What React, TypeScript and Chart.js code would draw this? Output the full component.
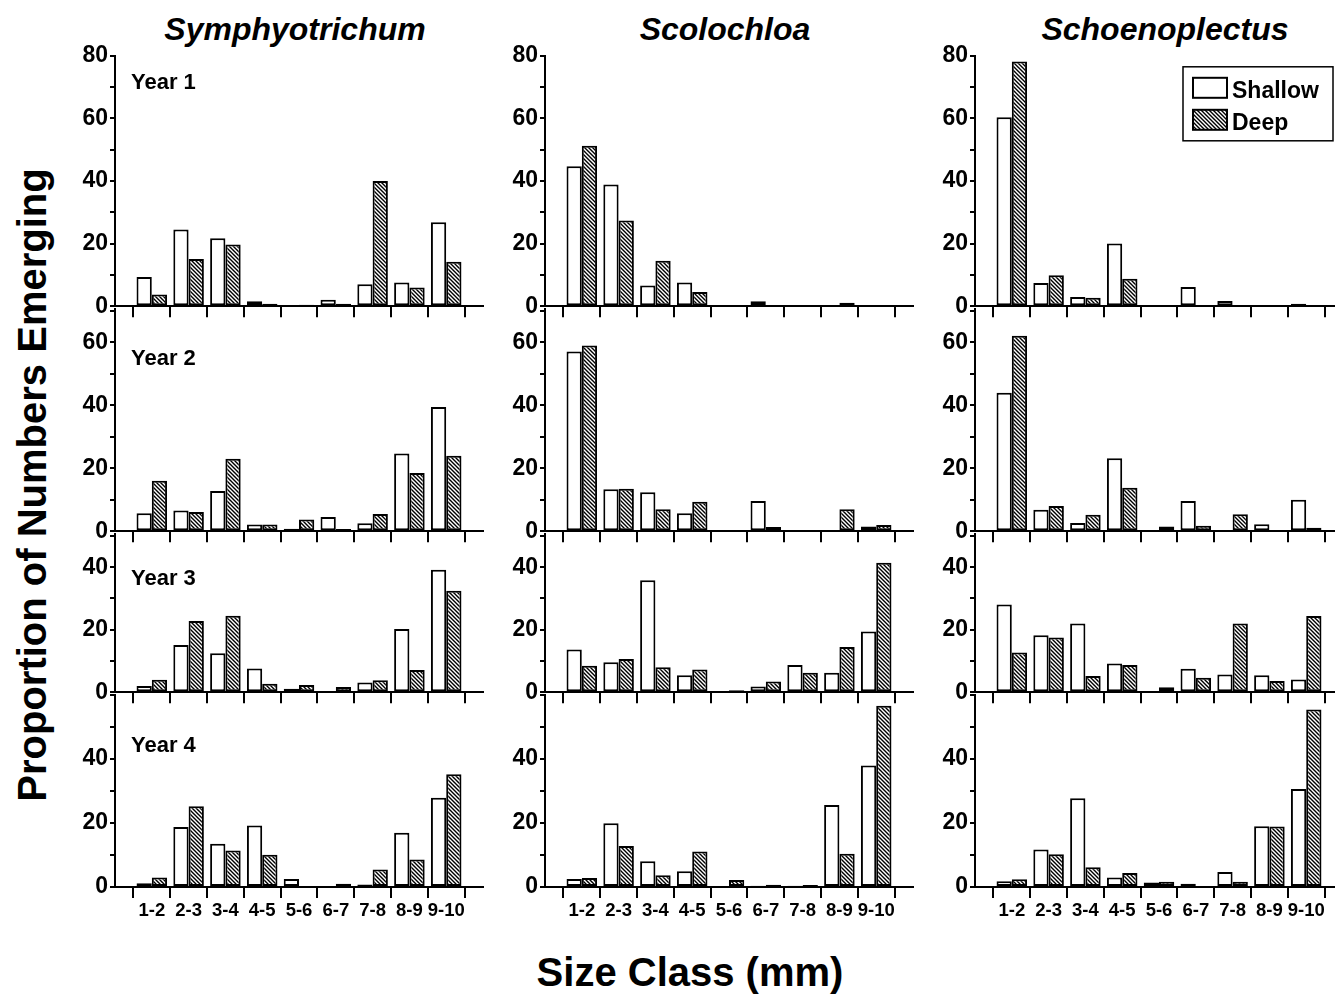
import React, { useEffect, useRef } from 'react';
import { Chart, registerables } from 'chart.js';

Chart.register(...registerables);

// ---------- data ----------
const sizeClasses = ['1-2', '2-3', '3-4', '4-5', '5-6', '6-7', '7-8', '8-9', '9-10'];
const genera = ['Symphyotrichum', 'Scolochloa', 'Schoenoplectus'];
const yearLabels = ['Year 1', 'Year 2', 'Year 3', 'Year 4'];
const seriesNames = ['Shallow', 'Deep'];

const symY1Shallow = [9.3, 24.5, 21.7, 1.6, 0, 2.1, 7.0, 7.6, 26.8];
const symY1Deep = [3.7, 15.1, 19.7, 0.8, 0.5, 0.8, 40.0, 6.0, 14.2];
const scoY1Shallow = [44.7, 38.9, 6.6, 7.6, 0, 1.6, 0, 0, 0];
const scoY1Deep = [51.3, 27.4, 14.5, 4.5, 0, 0.2, 0, 1.1, 0];
const schY1Shallow = [60.4, 7.4, 2.9, 20.0, 0.3, 6.1, 1.7, 0, 0.8];
const schY1Deep = [78.2, 9.9, 2.7, 8.8, 0, 0, 0, 0, 0];

const symY2Shallow = [5.7, 6.6, 12.8, 2.1, 0.8, 4.5, 2.5, 24.7, 39.5];
const symY2Deep = [16.0, 6.1, 23.0, 2.1, 3.7, 0.7, 5.5, 18.5, 24.0];
const scoY2Shallow = [57.1, 13.3, 12.4, 5.7, 0, 9.6, 0, 0.2, 1.5];
const scoY2Deep = [59.0, 13.5, 7.0, 9.4, 0, 1.3, 0.4, 7.0, 2.0];
const schY2Shallow = [44.0, 6.8, 2.6, 23.2, 0, 9.6, 0.2, 2.2, 10.0];
const schY2Deep = [62.1, 8.0, 5.2, 13.8, 1.5, 1.7, 5.4, 0.2, 1.1];

const symY3Shallow = [2.0, 15.1, 12.5, 7.6, 1.1, 0, 3.1, 20.2, 39.2];
const symY3Deep = [4.0, 22.8, 24.5, 2.7, 2.3, 1.7, 3.8, 7.1, 32.5];
const scoY3Shallow = [13.7, 9.6, 35.8, 5.4, 0, 1.8, 8.7, 6.2, 19.4];
const scoY3Deep = [8.5, 10.6, 8.0, 7.3, 0.6, 3.4, 6.2, 14.5, 41.4];
const schY3Shallow = [28.1, 18.2, 22.0, 9.2, 0, 7.5, 5.7, 5.4, 4.1];
const schY3Deep = [12.7, 17.5, 5.2, 8.7, 1.6, 4.6, 22.0, 3.6, 24.4];

const symY4Shallow = [1.2, 18.7, 13.5, 19.2, 2.5, 0, 0.8, 16.9, 27.9];
const symY4Deep = [3.0, 25.2, 11.4, 10.1, 0, 1.0, 5.5, 8.6, 35.2];
const scoY4Shallow = [2.5, 19.9, 8.0, 4.9, 0, 0.4, 0.4, 25.6, 37.9];
const scoY4Deep = [2.8, 12.8, 3.7, 11.1, 2.2, 0.7, 0.6, 10.4, 56.6];
const schY4Shallow = [1.8, 11.7, 27.7, 3.0, 1.4, 1.0, 4.7, 19.0, 30.6];
const schY4Deep = [2.4, 10.2, 6.2, 4.4, 1.6, 0, 1.6, 18.9, 55.4];

// y-axis range per row and which tick values get a label
const rowYMax = [80, 70.7, 50.7, 60];
const rowTickLabels = [
  [0, 20, 40, 60, 80],
  [0, 20, 40, 60],
  [0, 20, 40],
  [0, 20, 40],
];

const grid = [
  [[symY1Shallow, symY1Deep], [scoY1Shallow, scoY1Deep], [schY1Shallow, schY1Deep]],
  [[symY2Shallow, symY2Deep], [scoY2Shallow, scoY2Deep], [schY2Shallow, schY2Deep]],
  [[symY3Shallow, symY3Deep], [scoY3Shallow, scoY3Deep], [schY3Shallow, schY3Deep]],
  [[symY4Shallow, symY4Deep], [scoY4Shallow, scoY4Deep], [schY4Shallow, schY4Deep]],
];

// ---------- layout ----------
const FONT = "'Liberation Sans', Arial, Helvetica, sans-serif";
const AXIS_X = [115, 545, 975];
const PLOT_W = 368;
const Y_AXIS_W = 60;
const PAD_TOP = 15;
const PAD_RIGHT = 10;
const ROW_TOP = [55, 308, 533, 694];
const ROW_ZERO = [308, 533, 694, 887];
const X_AXIS_H = [14, 14, 14, 44];

let hatchCache: CanvasPattern | null = null;
function hatch(): CanvasPattern {
  if (hatchCache) return hatchCache;
  const c = document.createElement('canvas');
  c.width = 4;
  c.height = 4;
  const g = c.getContext('2d')!;
  g.fillStyle = '#fff';
  g.fillRect(0, 0, 4, 4);
  g.strokeStyle = '#000';
  g.lineWidth = 1.4;
  g.beginPath();
  g.moveTo(-1, -1);
  g.lineTo(5, 5);
  g.moveTo(-1, 3);
  g.lineTo(1, 5);
  g.moveTo(3, -1);
  g.lineTo(5, 1);
  g.stroke();
  hatchCache = g.createPattern(c, 'repeat')!;
  return hatchCache;
}

const legendPlugin = {
  id: 'boxLegend',
  afterDraw(chart: any) {
    const { ctx, chartArea } = chart;
    const x0 = chartArea.left + 208;
    const y0 = chartArea.top + 11;
    ctx.save();
    ctx.lineWidth = 1.5;
    ctx.strokeStyle = '#000';
    ctx.strokeRect(x0, y0, 150, 74);
    chart.data.datasets.forEach((ds: any, i: number) => {
      const sy = y0 + 11 + i * 32;
      ctx.fillStyle = ds.backgroundColor;
      ctx.fillRect(x0 + 10, sy, 34, 20);
      ctx.lineWidth = 2;
      ctx.strokeRect(x0 + 10, sy, 34, 20);
      ctx.fillStyle = '#000';
      ctx.font = `bold 23px ${FONT}`;
      ctx.textBaseline = 'alphabetic';
      ctx.textAlign = 'left';
      ctx.fillText(ds.label, x0 + 49, sy + 20);
    });
    ctx.restore();
  },
};

function Panel({ row, col }: { row: number; col: number }) {
  const ref = useRef<HTMLCanvasElement>(null);
  const width = Y_AXIS_W + PLOT_W + PAD_RIGHT;
  const height = PAD_TOP + (ROW_ZERO[row] - ROW_TOP[row]) + X_AXIS_H[row];
  const left = AXIS_X[col] - Y_AXIS_W;
  const top = ROW_TOP[row] - PAD_TOP;

  useEffect(() => {
    const [shallow, deep] = grid[row][col];
    const yMax = rowYMax[row];
    const labels = rowTickLabels[row];
    const isBottom = row === 3;
    const chart = new Chart(ref.current!, {
      type: 'bar',
      data: {
        datasets: [
          {
            label: seriesNames[0],
            data: shallow.map((v, i) => ({ x: i + 1, y: v })),
            backgroundColor: '#ffffff',
            borderColor: '#000000',
            borderWidth: 2,
            borderSkipped: false,
            categoryPercentage: 0.83,
            barPercentage: 1,
          },
          {
            label: seriesNames[1],
            data: deep.map((v, i) => ({ x: i + 1, y: v })),
            backgroundColor: hatch(),
            borderColor: '#000000',
            borderWidth: 2,
            borderSkipped: false,
            categoryPercentage: 0.83,
            barPercentage: 1,
          },
        ],
      } as any,
      options: {
        responsive: false,
        animation: false,
        devicePixelRatio: 1,
        layout: { padding: { top: PAD_TOP, right: PAD_RIGHT, left: 0, bottom: 0 } },
        plugins: {
          legend: { display: false },
          tooltip: { enabled: false },
        },
        scales: {
          x: {
            type: 'linear',
            min: 0,
            max: 10,
            offset: false,
            afterBuildTicks: (s: any) => {
              s.ticks = sizeClasses.map((_, i) => ({ value: i + 1 }));
            },
            afterFit: (s: any) => {
              s.height = X_AXIS_H[row];
            },
            ticks: {
              display: isBottom,
              autoSkip: false,
              maxRotation: 0,
              color: '#000',
              padding: 2,
              font: { family: FONT, size: 18.5, weight: 'bold' },
              callback: (v: any) => sizeClasses[Math.round(v) - 1] ?? '',
            },
            grid: {
              drawOnChartArea: false,
              drawTicks: true,
              tickLength: 11,
              tickColor: '#000',
              lineWidth: 2,
            },
            border: { display: true, color: '#000', width: 2 },
          },
          y: {
            type: 'linear',
            min: 0,
            max: yMax,
            afterBuildTicks: (s: any) => {
              const t = [];
              for (let v = 0; v <= yMax + 1e-6; v += 10) t.push({ value: v });
              s.ticks = t;
            },
            afterFit: (s: any) => {
              s.width = Y_AXIS_W;
            },
            ticks: {
              autoSkip: false,
              color: '#000',
              padding: 2,
              font: { family: FONT, size: 23, weight: 'bold' },
              callback: (v: any) => (labels.includes(Math.round(v)) ? String(Math.round(v)) : ''),
            },
            grid: {
              drawOnChartArea: false,
              drawTicks: true,
              tickLength: 5,
              tickColor: '#000',
              lineWidth: 2,
            },
            border: { display: true, color: '#000', width: 2 },
          },
        },
      } as any,
      plugins: row === 0 && col === 2 ? [legendPlugin] : [],
    });
    return () => chart.destroy();
  }, [row, col]);

  return (
    <canvas
      ref={ref}
      width={width}
      height={height}
      style={{ position: 'absolute', left, top, width, height }}
    />
  );
}

const titleCenters = [295, 725, 1165];
const yearTops = [71, 347, 567, 734];

export default function App() {
  const panels = [];
  for (let r = 0; r < 4; r++) for (let c = 0; c < 3; c++) panels.push(<Panel key={`${r}-${c}`} row={r} col={c} />);
  return (
    <div
      style={{
        position: 'absolute',
        left: 0,
        top: 0,
        width: 1335,
        height: 994,
        overflow: 'hidden',
        background: '#fff',
        fontFamily: FONT,
        color: '#000',
      }}
    >
      {genera.map((g, i) => (
        <div
          key={g}
          style={{
            position: 'absolute',
            left: titleCenters[i] - 200,
            width: 400,
            top: 13,
            textAlign: 'center',
            fontSize: 32,
            lineHeight: '32px',
            fontWeight: 'bold',
            fontStyle: 'italic',
            whiteSpace: 'nowrap',
          }}
        >
          {g}
        </div>
      ))}
      {yearLabels.map((y, i) => (
        <div
          key={y}
          style={{
            position: 'absolute',
            left: 131,
            top: yearTops[i],
            fontSize: 22,
            lineHeight: '22px',
            fontWeight: 'bold',
            whiteSpace: 'nowrap',
            zIndex: 2,
          }}
        >
          {y}
        </div>
      ))}
      {panels}
      <div
        style={{
          position: 'absolute',
          left: 32 - 400,
          top: 485 - 21,
          width: 800,
          height: 42,
          lineHeight: '42px',
          textAlign: 'center',
          fontSize: 40,
          fontWeight: 'bold',
          transform: 'rotate(-90deg)',
          whiteSpace: 'nowrap',
        }}
      >
        Proportion of Numbers Emerging
      </div>
      <div
        style={{
          position: 'absolute',
          left: 690 - 300,
          top: 949,
          width: 600,
          height: 46,
          lineHeight: '46px',
          textAlign: 'center',
          fontSize: 40,
          fontWeight: 'bold',
          whiteSpace: 'nowrap',
        }}
      >
        Size Class (mm)
      </div>
    </div>
  );
}
